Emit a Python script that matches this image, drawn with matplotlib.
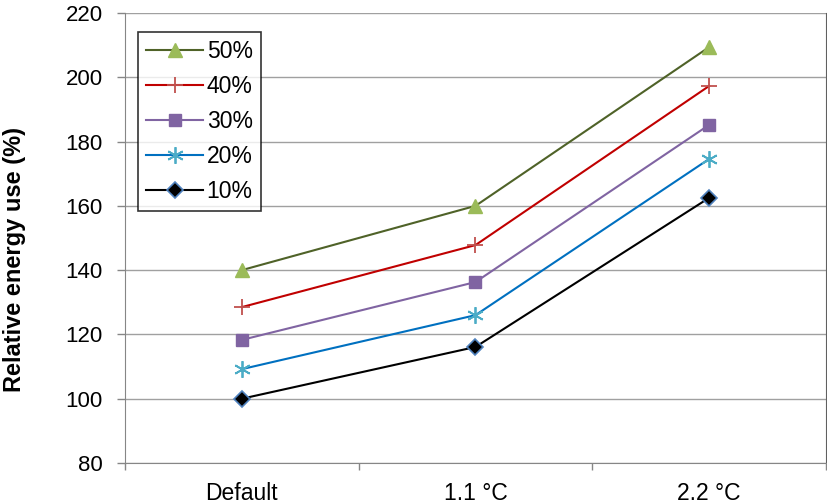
import matplotlib
matplotlib.use("Agg")
import matplotlib.pyplot as plt
import numpy as np

plt.rcParams['font.family'] = ['Liberation Sans', 'DejaVu Sans']

categories = ["Default", "1.1 °C", "2.2 °C"]
series_names = ["10%", "20%", "30%", "40%", "50%"]
s10 = [100.0, 116.1, 162.5]
s20 = [109.2, 126.0, 174.6]
s30 = [118.3, 136.3, 185.2]
s40 = [128.5, 147.8, 197.3]
s50 = [140.0, 160.0, 209.4]
yticks = [80, 100, 120, 140, 160, 180, 200, 220]

styles = {
    "10%": dict(color="black", marker="D", mfc="black", mec="#4F81BD", ms=8, mew=1.2),
    "20%": dict(color="#0070C0", marker=(6, 2, 0), mfc="#4BACC6", mec="#4BACC6", ms=12, mew=1.3),
    "30%": dict(color="#8064A2", marker="s", mfc="#8064A2", mec="#8064A2", ms=8),
    "40%": dict(color="#C00000", marker="+", mfc="#C0504D", mec="#C0504D", ms=11, mew=1.3),
    "50%": dict(color="#4F6228", marker="^", mfc="#9BBB59", mec="#9BBB59", ms=10),
}
data = {"10%": s10, "20%": s20, "30%": s30, "40%": s40, "50%": s50}

fig = plt.figure(figsize=(8.28, 5.04), dpi=100)
ax = fig.add_axes([125/828, 41/504, 701/828, 450/504])

x = np.arange(len(categories))
handles = {}
for name in series_names:
    st = styles[name]
    h, = ax.plot(x, data[name], lw=1.5, color=st["color"], marker=st["marker"],
                 markerfacecolor=st["mfc"], markeredgecolor=st["mec"],
                 markersize=st["ms"], markeredgewidth=st.get("mew", 1.0), zorder=3)
    handles[name] = h

ax.set_xlim(-0.5, 2.5)
ax.set_ylim(80, 220)
ax.set_yticks(yticks)
ax.set_yticklabels([str(v) for v in yticks], fontsize=16)
ax.set_xticks(x)
ax.set_xticklabels(categories, fontsize=16.5)
ax.tick_params(axis='x', which='major', length=0, pad=14)
ax.set_xticks([-0.5, 0.5, 1.5, 2.5], minor=True)
ax.tick_params(axis='x', which='minor', length=5, color="#868686", width=1)
ax.tick_params(axis='y', length=6, color="#868686", width=1, pad=10)

ax.grid(axis='y', color="#A0A0A0", lw=1.0)
ax.set_axisbelow(True)
ax.spines["top"].set_visible(False)
ax.spines["left"].set_color("#868686")
ax.spines["bottom"].set_color("#868686")
ax.spines["right"].set_color("#606060")

ax.set_ylabel("Relative energy use (%)", fontsize=17, fontweight="bold")
ax.yaxis.set_label_coords(-(125 - 26) / 701, (463 - 260) / 450)

order = ["50%", "40%", "30%", "20%", "10%"]
leg = ax.legend([handles[n] for n in order], order, loc="upper left",
                bbox_to_anchor=(13/701, 1-19/450), fontsize=16.5, frameon=True,
                fancybox=False, edgecolor="black", handlelength=2.5,
                borderpad=0.35, labelspacing=0.52, handletextpad=0.15, borderaxespad=0)
leg.get_frame().set_linewidth(1.2)

fig.savefig("out.png", dpi=100)
